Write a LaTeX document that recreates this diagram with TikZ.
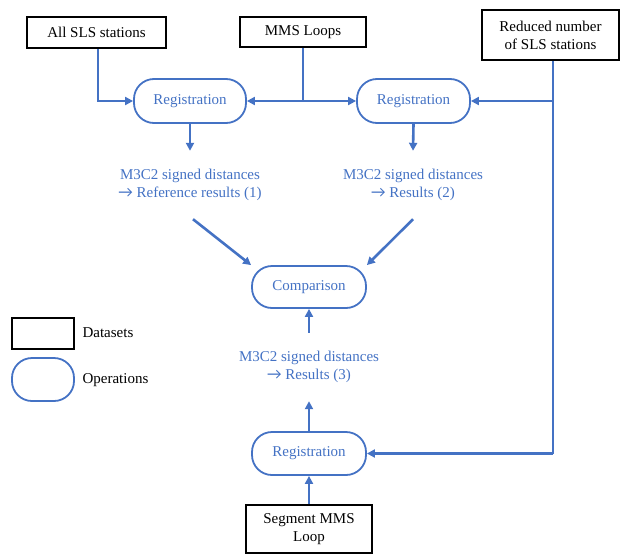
\documentclass[tikz,border=0pt]{standalone}
\usepackage{fontspec}
\setmainfont{Liberation Serif}
\newfontfamily\arrfont{Carlito}
\usetikzlibrary{arrows.meta}
\definecolor{obl}{HTML}{4472C4}
\newcommand{\rarr}{{\arrfont\fontsize{16}{18}\selectfont →}}
\begin{document}
\begin{tikzpicture}[x=1pt,y=-1pt,
  every node/.style={font=\fontsize{15}{18}\selectfont},
  dataset/.style={draw=black,line width=2pt,inner sep=0pt,align=center},
  oper/.style={draw=obl,line width=1.8pt,rounded corners=20pt,text=obl,inner sep=0pt,align=center},
  res/.style={text=obl,inner sep=0pt,align=center,minimum height=68pt},
  conn/.style={draw=obl,line width=2.6pt},
  arr/.style={conn,-{Triangle[length=8pt,width=8pt]}}]
\useasboundingbox (0,0) rectangle (620,554);
% datasets
\node[dataset,minimum width=139pt,minimum height=31pt] (all) at (96.5,32.5) {All SLS stations};
\node[dataset,minimum width=126pt,minimum height=30pt] (mms) at (303,32) {MMS Loops};
\node[dataset,minimum width=137pt,minimum height=50pt] (red) at (550.5,35) {Reduced number\\of SLS stations};
\node[dataset,minimum width=126pt,minimum height=48pt] (seg) at (309,529) {Segment MMS\\Loop};
% operations
\node[oper,minimum width=112pt,minimum height=44pt] (reg1) at (190,101) {Registration};
\node[oper,minimum width=113pt,minimum height=44pt] (reg2) at (413.5,101) {Registration};
\node[oper,minimum width=114pt,minimum height=42pt] (cmp) at (309,287) {Comparison};
\node[oper,minimum width=114pt,minimum height=43pt] (reg3) at (309,453.5) {Registration};
% results
\node[res] (r1) at (190,185) {M3C2 signed distances\\\rarr\ Reference results (1)};
\node[res] (r2) at (413,185) {M3C2 signed distances\\\rarr\ Results (2)};
\node[res] (r3) at (309,367) {M3C2 signed distances\\\rarr\ Results (3)};
% legend
\node[dataset,minimum width=62pt,minimum height=31pt] (legd) at (43,333.5) {};
\node[anchor=west] (legdt) at (79,333) {Datasets};
\node[oper,minimum width=62pt,minimum height=43pt] (lego) at (43,379.5) {};
\node[anchor=west] (legot) at (79,380) {Operations};
% connectors
\draw[arr] ([xshift=1.5pt]all.south) |- (reg1.west);
\coordinate (jm) at (mms.south |- reg1.west);
\draw[conn] (mms.south) -- (jm);
\draw[arr] (jm) -- (reg1.east);
\draw[arr] (jm) -- (reg2.west);
\coordinate (rs) at ([xshift=2.5pt]red.south);
\coordinate (jr1) at (rs |- reg2.east);
\coordinate (jr2) at (rs |- reg3.east);
\draw[conn] (rs) -- (jr2);
\draw[arr] (jr1) -- (reg2.east);
\draw[arr] (jr2) -- (reg3.east);
\draw[arr] (reg1.south) -- (r1.north);
\draw[arr] (reg2.south) -- (r2.north);
\draw[arr] ([xshift=3pt]r1.south) -- (cmp.north west);
\draw[arr] (r2.south) -- (cmp.north east);
\draw[arr] (r3.north) -- (cmp.south);
\draw[arr] (reg3.north) -- (r3.south);
\draw[arr] (seg.north) -- (reg3.south);
\end{tikzpicture}
\end{document}
